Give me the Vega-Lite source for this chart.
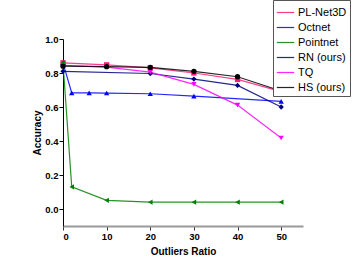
{
  "$schema": "https://vega.github.io/schema/vega-lite/v6.json",
  "width": 240,
  "height": 187,
  "autosize": {"type": "none"},
  "padding": {"left": 63, "top": 39, "right": 51, "bottom": 45},
  "background": "white",
  "config": {
    "view": {"stroke": null},
    "font": "Liberation Sans",
    "axis": {"grid": false, "labelFont": "Liberation Sans", "titleFont": "Liberation Sans", "labelFontWeight": "bold", "titleFontWeight": "bold", "labelFontSize": 9.5, "titleFontSize": 10, "labelColor": "#000", "titleColor": "#000", "labelOverlap": false}
  },
  "data": {"values": [
    {"ratio": 0, "acc": 0.86, "method": "PL-Net3D"},
    {"ratio": 10, "acc": 0.848, "method": "PL-Net3D"},
    {"ratio": 20, "acc": 0.83, "method": "PL-Net3D"},
    {"ratio": 30, "acc": 0.80, "method": "PL-Net3D"},
    {"ratio": 40, "acc": 0.762, "method": "PL-Net3D"},
    {"ratio": 50, "acc": 0.69, "method": "PL-Net3D"},
    {"ratio": 0, "acc": 0.86, "method": "Octnet"},
    {"ratio": 2, "acc": 0.683, "method": "Octnet"},
    {"ratio": 6, "acc": 0.683, "method": "Octnet"},
    {"ratio": 10, "acc": 0.682, "method": "Octnet"},
    {"ratio": 20, "acc": 0.678, "method": "Octnet"},
    {"ratio": 30, "acc": 0.664, "method": "Octnet"},
    {"ratio": 50, "acc": 0.633, "method": "Octnet"},
    {"ratio": 0, "acc": 0.86, "method": "Pointnet"},
    {"ratio": 2, "acc": 0.13, "method": "Pointnet"},
    {"ratio": 10, "acc": 0.051, "method": "Pointnet"},
    {"ratio": 20, "acc": 0.04, "method": "Pointnet"},
    {"ratio": 30, "acc": 0.04, "method": "Pointnet"},
    {"ratio": 40, "acc": 0.04, "method": "Pointnet"},
    {"ratio": 50, "acc": 0.04, "method": "Pointnet"},
    {"ratio": 0, "acc": 0.81, "method": "RN (ours)"},
    {"ratio": 20, "acc": 0.797, "method": "RN (ours)"},
    {"ratio": 30, "acc": 0.764, "method": "RN (ours)"},
    {"ratio": 40, "acc": 0.727, "method": "RN (ours)"},
    {"ratio": 50, "acc": 0.60, "method": "RN (ours)"},
    {"ratio": 0, "acc": 0.845, "method": "TQ"},
    {"ratio": 10, "acc": 0.835, "method": "TQ"},
    {"ratio": 20, "acc": 0.805, "method": "TQ"},
    {"ratio": 30, "acc": 0.733, "method": "TQ"},
    {"ratio": 40, "acc": 0.611, "method": "TQ"},
    {"ratio": 50, "acc": 0.418, "method": "TQ"},
    {"ratio": 0, "acc": 0.84, "method": "HS (ours)"},
    {"ratio": 10, "acc": 0.837, "method": "HS (ours)"},
    {"ratio": 20, "acc": 0.833, "method": "HS (ours)"},
    {"ratio": 30, "acc": 0.81, "method": "HS (ours)"},
    {"ratio": 40, "acc": 0.778, "method": "HS (ours)"},
    {"ratio": 50, "acc": 0.694, "method": "HS (ours)"}
  ]},
  "resolve": {"legend": {"color": "independent"}},
  "encoding": {
    "x": {"field": "ratio", "type": "quantitative", "scale": {"domain": [0, 55], "nice": false},
      "axis": {"values": [0, 10, 20, 30, 40, 50], "title": "Outliers Ratio", "domainColor": "#999", "domainWidth": 2, "tickColor": "#333", "tickSize": 4, "labelPadding": 1, "titlePadding": 6, "labelOverlap": false}},
    "y": {"field": "acc", "type": "quantitative", "scale": {"domain": [-0.1, 1.0], "nice": false},
      "axis": {"values": [0, 0.2, 0.4, 0.6, 0.8, 1.0], "format": ".1f", "title": "Accuracy", "domainColor": "#000", "tickColor": "#000", "tickSize": 4, "labelPadding": 1, "titlePadding": 2, "labelOverlap": false}}
  },
  "layer": [
    {
      "mark": {"type": "line", "strokeWidth": 1.2, "opacity": 0.85},
      "encoding": {
        "color": {"field": "method", "type": "nominal",
          "scale": {"domain": ["PL-Net3D", "Octnet", "Pointnet", "RN (ours)", "TQ", "HS (ours)"], "range": ["#FF1A75", "#0000FF", "#008000", "#000080", "#FF00FF", "#000000"]},
          "legend": {
            "orient": "none", "legendX": 210, "legendY": -39, "title": null,
            "strokeColor": "#555", "padding": 3, "fillColor": "white",
            "labelFont": "Liberation Sans", "labelFontSize": 11, "labelColor": "#000", "labelOffset": 3,
            "symbolSize": 300, "symbolStrokeWidth": 1.2, "rowPadding": -8, "labelLimit": 100
          }}
      }
    },
    {
      "mark": {"type": "point", "filled": true, "size": 28, "opacity": 1},
      "encoding": {
        "color": {"field": "method", "type": "nominal", "legend": null},
        "shape": {"field": "method", "type": "nominal", "legend": null,
          "scale": {"domain": ["PL-Net3D", "Octnet", "Pointnet", "RN (ours)", "TQ", "HS (ours)"], "range": ["square", "triangle-up", "triangle-left", "diamond", "triangle-down", "circle"]}}
      }
    }
  ]
}
